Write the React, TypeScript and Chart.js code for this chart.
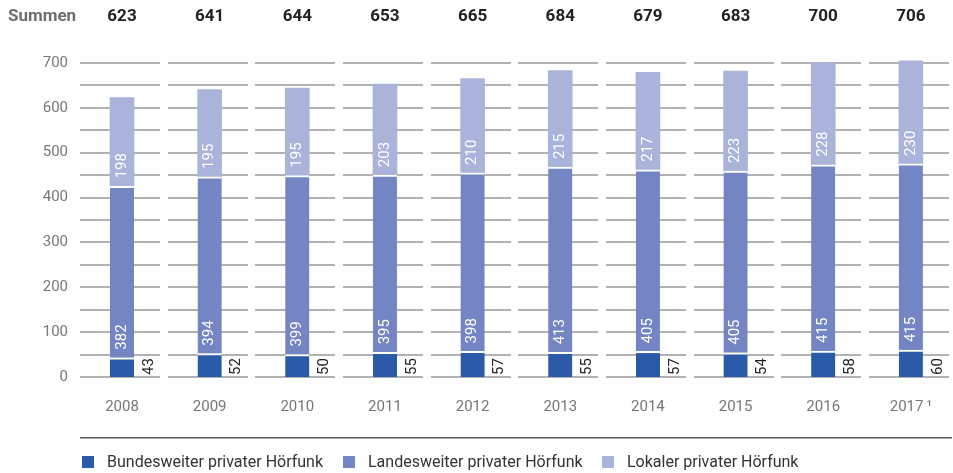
import { useEffect, useRef } from 'react';
import { Chart, registerables } from 'chart.js';

Chart.register(...registerables);

const categories = ['2008', '2009', '2010', '2011', '2012', '2013', '2014', '2015', '2016', '2017\u2009\u00B9'];
const bundesweit = [43, 52, 50, 55, 57, 55, 57, 54, 58, 60];
const landesweit = [382, 394, 399, 395, 398, 413, 405, 405, 415, 415];
const lokal = [198, 195, 195, 203, 210, 215, 217, 223, 228, 230];
const summen = [623, 641, 644, 653, 665, 684, 679, 683, 700, 706];
const gridValues = [0, 50, 100, 150, 200, 250, 300, 350, 400, 450, 500, 550, 600, 650, 700];
const seriesLabels = ['Bundesweiter privater Hörfunk', 'Landesweiter privater Hörfunk', 'Lokaler privater Hörfunk'];
const seriesColors = ['#2b5aa8', '#7485c3', '#aab4da'];

const FONT = "Roboto, 'Noto Sans', sans-serif";

const customPlugin = {
  id: 'customDecor',
  beforeDatasetsDraw(chart: any) {
    const { ctx, scales } = chart;
    const x = scales.x;
    const y = scales.y;
    if (!x || !y) return;
    ctx.save();
    ctx.fillStyle = '#b2b2b2';
    gridValues.forEach((v) => {
      const py = Math.round(y.getPixelForValue(v));
      for (let i = 0; i < categories.length; i++) {
        const px = Math.round(x.getPixelForValue(i));
        ctx.fillRect(px - 42, py - 1, 80, 2);
      }
    });
    ctx.restore();
  },
  afterDatasetsDraw(chart: any) {
    const { ctx } = chart;
    ctx.save();
    ctx.font = `15px ${FONT}`;
    ctx.textAlign = 'left';
    ctx.textBaseline = 'middle';
    const drawRot = (text: string, px: number, py: number, color: string) => {
      ctx.save();
      ctx.translate(px, py);
      ctx.rotate(-Math.PI / 2);
      ctx.fillStyle = color;
      ctx.fillText(text, 0, 0);
      ctx.restore();
    };
    chart.data.datasets.forEach((ds: any, di: number) => {
      const meta = chart.getDatasetMeta(di);
      meta.data.forEach((el: any, i: number) => {
        const p = el.getProps(['x', 'y', 'base'], true);
        const val = String(ds.data[i]);
        if (di === 0) {
          drawRot(val, p.x + 27, p.base - 2, '#222222');
        } else {
          drawRot(val, p.x, p.base - 8, '#ffffff');
        }
      });
    });
    ctx.restore();
  },
  afterDraw(chart: any) {
    const { ctx, scales } = chart;
    const x = scales.x;
    ctx.save();
    ctx.textBaseline = 'middle';
    ctx.textAlign = 'left';
    ctx.font = `bold 17px ${FONT}`;
    ctx.fillStyle = '#6e6e6e';
    ctx.fillText('Summen', 8, 17);
    ctx.fillStyle = '#222222';
    ctx.textAlign = 'center';
    summen.forEach((s, i) => {
      ctx.fillText(String(s), x.getPixelForValue(i), 17);
    });
    ctx.fillStyle = '#555555';
    ctx.fillRect(80, 437, 872, 1.5);
    const starts = [82, 343, 602];
    ctx.font = `16px ${FONT}`;
    ctx.textAlign = 'left';
    seriesLabels.forEach((lab, i) => {
      ctx.fillStyle = seriesColors[i];
      ctx.fillRect(starts[i], 456, 12, 12);
      ctx.fillStyle = '#333333';
      ctx.fillText(lab, starts[i] + 25, 463);
    });
    ctx.restore();
  },
};

export default function App() {
  const canvasRef = useRef<HTMLCanvasElement | null>(null);

  useEffect(() => {
    document.body.style.margin = '0';
    const canvas = canvasRef.current;
    if (!canvas) return;
    const chart = new Chart(canvas, {
      type: 'bar',
      data: {
        labels: categories,
        datasets: [
          {
            label: seriesLabels[0],
            data: bundesweit,
            backgroundColor: seriesColors[0],
            borderColor: '#ffffff',
            borderWidth: { top: 2, right: 0, bottom: 0, left: 0 },
            borderSkipped: false,
            barThickness: 24,
            clip: false,
          },
          {
            label: seriesLabels[1],
            data: landesweit,
            backgroundColor: seriesColors[1],
            borderColor: '#ffffff',
            borderWidth: { top: 2, right: 0, bottom: 0, left: 0 },
            borderSkipped: false,
            barThickness: 24,
            clip: false,
          },
          {
            label: seriesLabels[2],
            data: lokal,
            backgroundColor: seriesColors[2],
            borderWidth: 0,
            barThickness: 24,
            clip: false,
          },
        ] as any,
      },
      options: {
        animation: false,
        responsive: true,
        maintainAspectRatio: false,
        layout: { padding: { left: 0, right: 40, top: 60, bottom: 0 } },
        plugins: {
          legend: { display: false },
          tooltip: { enabled: false },
        },
        scales: {
          x: {
            type: 'category',
            stacked: true,
            offset: false,
            grid: { display: false, drawTicks: false },
            border: { display: false },
            ticks: {
              color: '#777777',
              font: { family: FONT, size: 15 },
              padding: 21,
              maxRotation: 0,
              autoSkip: false,
            },
            afterFit: (s: any) => {
              s.height = 96;
            },
          },
          y: {
            stacked: true,
            min: 0,
            max: 700,
            grid: { display: false, drawTicks: false },
            border: { display: false },
            ticks: {
              stepSize: 100,
              color: '#777777',
              font: { family: FONT, size: 15 },
              padding: 54,
            },
            afterFit: (s: any) => {
              s.width = 122;
            },
          },
        },
      } as any,
      plugins: [customPlugin],
    });
    return () => chart.destroy();
  }, []);

  return (
    <div style={{ width: 953, height: 473, position: 'relative' }}>
      <canvas ref={canvasRef} />
    </div>
  );
}
